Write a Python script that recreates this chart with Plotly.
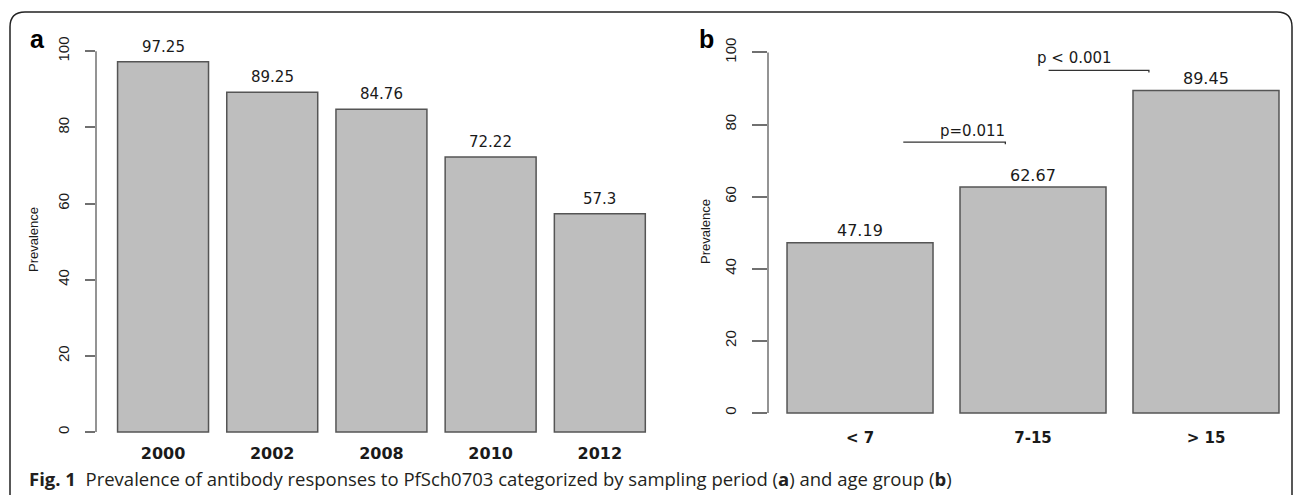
import plotly.graph_objects as go

# ---------------- data ----------------
years = ["2000", "2002", "2008", "2010", "2012"]
prev_year = [97.25, 89.25, 84.76, 72.22, 57.3]
year_text = ["97.25", "89.25", "84.76", "72.22", "57.3"]

age_groups = ["< 7", "7-15", "> 15"]
prev_age = [47.19, 62.67, 89.45]
age_text = ["47.19", "62.67", "89.45"]

y_ticks = [0, 20, 40, 60, 80, 100]

p_labels = ["p=0.011", "p < 0.001"]
p_line_x0 = [0.25, 1.09]
p_line_x1 = [0.84, 1.67]
p_line_y = [75.1, 95.0]
p_text_x = [0.65, 1.24]
p_text_y = [78.3, 98.4]

caption = ("<b>Fig. 1</b>  Prevalence of antibody responses to PfSch0703 categorized "
           "by sampling period (<b>a</b>) and age group (<b>b</b>)")

# ---------------- figure ----------------
W, H = 1293, 495
BAR_FILL = "#bebebe"
BAR_LINE = "#555555"
AXIS_COL = "#707070"
TXT = "#1a1a1a"


def px(x):
    return x / W


def py(y):
    return 1 - y / H


fig = go.Figure()

xa = list(range(len(years)))
xb = list(range(len(age_groups)))

fig.add_trace(go.Bar(x=xa, y=prev_year, width=0.833, marker=dict(color=BAR_FILL, line=dict(color=BAR_LINE, width=1.5)),
                     xaxis="x", yaxis="y", showlegend=False, hoverinfo="skip"))
fig.add_trace(go.Bar(x=xb, y=prev_age, width=0.844, marker=dict(color=BAR_FILL, line=dict(color=BAR_LINE, width=1.5)),
                     xaxis="x2", yaxis="y2", showlegend=False, hoverinfo="skip"))

# value labels
for xi, v, t in zip(xa, prev_year, year_text):
    fig.add_annotation(x=xi, y=v, xref="x", yref="y", text=t, showarrow=False, yanchor="middle", yshift=15,
                       font=dict(family="DejaVu Sans", size=15, color=TXT))
for xi, v, t in zip(xb, prev_age, age_text):
    fig.add_annotation(x=xi, y=v, xref="x2", yref="y2", text=t, showarrow=False, yanchor="middle", yshift=12,
                       font=dict(family="DejaVu Sans", size=16, color=TXT))

# p-value brackets
for lab, x0, x1, yl, tx, ty in zip(p_labels, p_line_x0, p_line_x1, p_line_y, p_text_x, p_text_y):
    fig.add_trace(go.Scatter(x=[x0, x1, x1], y=[yl, yl, yl - 0.6], mode="lines",
                             line=dict(color="#333333", width=1.3), xaxis="x2", yaxis="y2",
                             showlegend=False, hoverinfo="skip"))
    fig.add_annotation(x=tx, y=ty, xref="x2", yref="y2", text=lab, showarrow=False,
                       xanchor="center", yanchor="middle",
                       font=dict(family="DejaVu Sans", size=15, color=TXT))

# y-axis lines from 0 to 100 (R style)
for xr, yr in (("x domain", "y"), ("x2 domain", "y2")):
    fig.add_shape(type="line", xref=xr, yref=yr, x0=0, x1=0, y0=y_ticks[0], y1=y_ticks[-1],
                  line=dict(color=AXIS_COL, width=1.5))

common_y = dict(tickvals=y_ticks, ticktext=[str(t) for t in y_ticks], ticks="outside", tickcolor=AXIS_COL,
                tickwidth=1.5, tickangle=-90, showgrid=False, zeroline=False, showline=False,
                tickfont=dict(family="Liberation Sans", size=15, color=TXT))

fig.update_layout(
    width=W, height=H,
    margin=dict(l=0, r=0, t=0, b=0),
    paper_bgcolor="white", plot_bgcolor="white",
    xaxis=dict(domain=[px(96), px(666)], range=[-0.614, 4.606], tickvals=xa, ticktext=years,
               showgrid=False, zeroline=False, showline=False, ticks="",
               tickfont=dict(family="DejaVu Sans", size=16, color=TXT, weight="bold")),
    yaxis=dict(domain=[py(442), py(36)], range=[-2.6, 104], ticklen=10, ticklabelstandoff=10, **common_y),
    xaxis2=dict(domain=[px(768), 1.0], range=[-0.532, 2.503], tickvals=xb, ticktext=age_groups,
                showgrid=False, zeroline=False, showline=False, ticks="", anchor="y2",
                tickfont=dict(family="DejaVu Sans", size=15, color=TXT, weight="bold")),
    yaxis2=dict(domain=[py(427), py(38)], range=[-3.9, 104], ticklen=15, ticklabelstandoff=10,
                anchor="x2", **common_y),
)

# axis titles
fig.add_annotation(x=px(33), y=py(240), xref="paper", yref="paper", text="Prevalence", textangle=-90,
                   xanchor="center", yanchor="middle", showarrow=False,
                   font=dict(family="Liberation Sans", size=13, color=TXT))
fig.add_annotation(x=px(705), y=py(232), xref="paper", yref="paper", text="Prevalence", textangle=-90,
                   xanchor="center", yanchor="middle", showarrow=False,
                   font=dict(family="Liberation Sans", size=13, color=TXT))

# panel letters
fig.add_annotation(x=px(37), y=py(39), xref="paper", yref="paper", text="<b>a</b>", showarrow=False,
                   xanchor="center", yanchor="middle",
                   font=dict(family="Liberation Sans", size=25, color="black"))
fig.add_annotation(x=px(706), y=py(39), xref="paper", yref="paper", text="<b>b</b>", showarrow=False,
                   xanchor="center", yanchor="middle",
                   font=dict(family="Liberation Sans", size=25, color="black"))

# caption
fig.add_annotation(x=px(27), y=py(478), xref="paper", yref="paper", text=caption, showarrow=False,
                   xanchor="left", yanchor="middle", font=dict(family="Open Sans", size=18.5, color="#231f20"))

# rounded border
r = 15
pts = f"M {px(10)},{py(510)} L {px(10)},{py(12 + r)} Q {px(10)},{py(12)} {px(10 + r)},{py(12)} " \
      f"L {px(1292 - r)},{py(12)} Q {px(1292)},{py(12)} {px(1292)},{py(12 + r)} L {px(1292)},{py(510)}"
fig.add_shape(type="path", xref="paper", yref="paper", path=pts, line=dict(color="#222222", width=1.5))

fig.write_html("out.html")
